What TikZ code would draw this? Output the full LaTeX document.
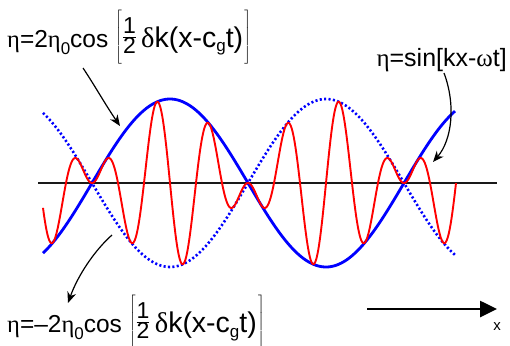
\documentclass[tikz,border=0pt]{standalone}
\usepackage{fontspec}
\setmainfont{Liberation Sans}
\newfontfamily\grk{Liberation Serif}
\usetikzlibrary{arrows.meta}
\newcommand{\gk}[1]{{\grk #1}}
\newcommand{\subz}{\raisebox{-7pt}{\fontsize{17}{17}\selectfont 0}}
\newcommand{\subg}{\raisebox{-5pt}{\fontsize{17}{17}\selectfont g}}
\newcommand{\brstrut}{\vrule height 33pt depth 21pt width 0pt}
\newcommand{\halffrac}{\frac{\hbox{\fontsize{23}{23}\selectfont 1}}{\hbox{\fontsize{23}{23}\selectfont 2}}}
\newcommand{\phasebr}{{\fontsize{28.5}{32}\selectfont\raisebox{4pt}{$\left[\brstrut\halffrac\right.$}\hspace{3pt}\gk{δ}k(x-c\subg t)\raisebox{4pt}{$\left.\brstrut\right]$}}}
\begin{document}
\begin{tikzpicture}[x=1pt,y=-1pt,
  lbl/.style={inner sep=0pt, font=\fontsize{24.5}{28}\selectfont},
  envsolid/.style={blue, line width=2.8pt},
  envdot/.style={blue, line width=2.6pt, dash pattern=on 2.1pt off 2.3pt},
  carrier/.style={red, line width=1.9pt},
  axisline/.style={black!90, line width=2.8pt},
  arr/.style={-{Stealth[length=11pt,width=9pt]}, line width=1.2pt}]
\useasboundingbox (0,0) rectangle (510,345);
% axis
\coordinate (axL) at (38,183);
\coordinate (axR) at (497,183);
\draw[axisline] (axL) -- (axR);
% envelopes
\draw[envdot] plot[domain=43:455, samples=200] (\x, {183+84*sin((\x-92)/156*180)});
\draw[envsolid] plot[domain=43:455, samples=200] (\x, {183-84*sin((\x-92)/156*180)});
% carrier
\draw[carrier] plot[domain=43:456, samples=700] (\x, {183-84*sin((\x-92)/156*180)*cos((\x-157)/52*360)});
% labels
\node[lbl, anchor=base west] (top) at (7,47) {\gk{η}=2\gk{η}\subz cos \phasebr};
\node[lbl, anchor=base west] (bot) at (7,332) {\gk{η}=–2\gk{η}\subz cos \phasebr};
\node[lbl, font=\fontsize{25}{30}\selectfont, anchor=base east] (sinl) at (507,66) {\gk{η}=sin[kx-\gk{ω}t]};
% curved arrows
\coordinate (a1s) at (83,68);
\coordinate (a1e) at (120,126);
\draw[arr] (a1s) .. controls (95,86) and (105,104) .. (a1e);
\coordinate (a2s) at (444,73);
\coordinate (a2e) at (433,162);
\draw[arr] (a2s) .. controls (456,105) and (452,140) .. (a2e);
\coordinate (a3s) at (112,235);
\coordinate (a3e) at (68,303);
\draw[arr] (a3s) .. controls (95,250) and (78,275) .. (a3e);
% x arrow
\coordinate (xs) at (367,309);
\coordinate (xe) at (497,309);
\draw[line width=2.6pt, -{Triangle[length=17pt,width=16pt]}] (xs) -- (xe);
\node[font=\fontsize{15}{17}\selectfont, inner sep=0pt] (xl) at (497,327) {x};
\end{tikzpicture}
\end{document}
